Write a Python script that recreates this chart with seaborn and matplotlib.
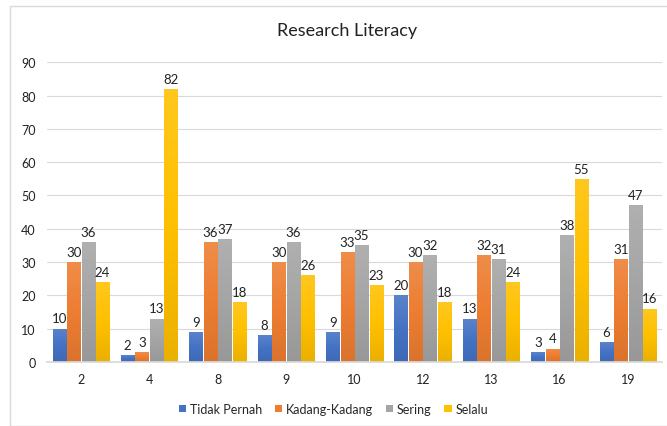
import matplotlib
matplotlib.use("Agg")
import matplotlib.pyplot as plt
import seaborn as sns
import pandas as pd
import numpy as np
from matplotlib.patches import Rectangle
from matplotlib.colors import LinearSegmentedColormap, to_rgb

categories = ["2", "4", "8", "9", "10", "12", "13", "16", "19"]
series_names = ["Tidak Pernah", "Kadang-Kadang", "Sering", "Selalu"]
tidak_pernah = [10, 2, 9, 8, 9, 20, 13, 3, 6]
kadang_kadang = [30, 3, 36, 30, 33, 30, 32, 4, 31]
sering = [36, 13, 37, 36, 35, 32, 31, 38, 47]
selalu = [24, 82, 18, 26, 23, 18, 24, 55, 16]
colors = ["#4472C4", "#ED7D31", "#A5A5A5", "#FFC000"]

rows = []
for name, vals in zip(series_names, [tidak_pernah, kadang_kadang, sering, selalu]):
    for c, v in zip(categories, vals):
        rows.append({"cat": c, "series": name, "value": v})
df = pd.DataFrame(rows)

sns.set_theme(style="white")
plt.rcParams["font.family"] = ["Lato", "DejaVu Sans"]

fig = plt.figure(figsize=(6.67, 4.27), dpi=100)
ax = fig.add_axes([0.070, 0.15, 0.9226, 0.702])

sns.barplot(data=df, x="cat", y="value", hue="series", order=categories,
            hue_order=series_names, palette=colors, width=0.848, ax=ax,
            saturation=1, edgecolor="none", linewidth=0)

def shade(c, f):
    r = np.array(to_rgb(c))
    if f > 0:
        return tuple(r + (1 - r) * f)
    return tuple(r * (1 + f))

for cont, col in zip(ax.containers, colors):
    cmap = LinearSegmentedColormap.from_list("g", [shade(col, -0.08), col, shade(col, 0.12)])
    for p in cont.patches:
        w = p.get_width()
        p.set_width(w * 0.9)
        p.set_x(p.get_x() + w * 0.05)
        x0, y0 = p.get_x(), p.get_y()
        h = p.get_height()
        grad = np.linspace(0, 1, 64).reshape(-1, 1)
        im = ax.imshow(grad, cmap=cmap, origin="lower", aspect="auto",
                       extent=[x0, x0 + p.get_width(), y0, y0 + h], zorder=p.get_zorder() + 0.01)
        im.set_clip_path(p)
    ax.bar_label(cont, fontsize=9.5, padding=3, color="#222222")

ax.set_ylim(0, 90)
ax.set_yticks(range(0, 91, 10))
ax.set_xlim(-0.5, len(categories) - 0.5)
ax.yaxis.grid(True, color="#D9D9D9", linewidth=0.8)
ax.set_axisbelow(True)
for s in ["top", "right", "left"]:
    ax.spines[s].set_visible(False)
ax.spines["bottom"].set_color("#D9D9D9")
ax.tick_params(axis="both", length=0, labelsize=9, colors="#222222", pad=8)
ax.set_xlabel("")
ax.set_ylabel("")

fig.suptitle("Research Literacy", x=0.52, y=0.945, fontsize=13, color="#222222")

handles, labels = ax.get_legend_handles_labels()
ax.legend(handles, labels, loc="center", bbox_to_anchor=(0.5, 0.04),
          bbox_transform=fig.transFigure, ncol=4, frameon=False, fontsize=9,
          handlelength=0.6, handleheight=0.6, handletextpad=0.3, columnspacing=1.0)

fig.patches.append(Rectangle((10 / 667, 0), 1, 1 - 7 / 427, transform=fig.transFigure,
                             fill=False, edgecolor="#D9D9D9", linewidth=1))

fig.savefig("out.png", dpi=100)
